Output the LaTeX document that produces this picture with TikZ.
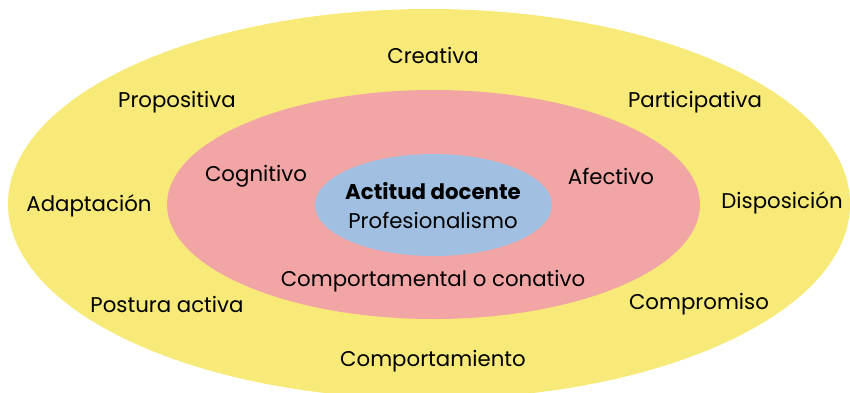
\documentclass[tikz,border=0pt]{standalone}
\usepackage{fontspec}
\setmainfont{Poppins}
\usetikzlibrary{shapes.geometric}
\definecolor{ringyellow}{RGB}{247,234,120}
\definecolor{ringred}{RGB}{242,165,165}
\definecolor{ringblue}{RGB}{160,191,225}
\tikzset{
  ring/.style={ellipse, inner sep=0pt},
  lbl/.style={font=\fontsize{21.3}{25}\selectfont, text=black, inner sep=0pt, yshift=-2.5pt}
}
\begin{document}
\begin{tikzpicture}[x=1pt,y=1pt]
\useasboundingbox (0,0) rectangle (850,-392);
\node[ring, fill=ringyellow, minimum width=842, minimum height=390] (outer) at (429,-204) {};
\node[ring, fill=ringred, minimum width=533, minimum height=229] (middle) at (433.5,-204.5) {};
\node[ring, fill=ringblue, minimum width=237, minimum height=102] (inner) at (433.5,-205) {};

\node[lbl] (creativa) at (433,-53) {Creativa};
\node[lbl] (propositiva) at (177,-100) {Propositiva};
\node[lbl] (participativa) at (695,-100) {Participativa};
\node[lbl] (adaptacion) at (89,-203) {Adaptación};
\node[lbl] (disposicion) at (782,-200) {Disposición};
\node[lbl] (postura) at (167,-302) {Postura activa};
\node[lbl] (compromiso) at (699,-302) {Compromiso};
\node[lbl] (comportamiento) at (433,-359) {Comportamiento};

\node[lbl] (cognitivo) at (256,-174) {Cognitivo};
\node[lbl] (afectivo) at (611,-174) {Afectivo};
\node[lbl] (conativo) at (433,-279) {Comportamental o conativo};

\node[lbl, font=\fontsize{21.3}{25}\selectfont\bfseries] (actitud) at (433,-189) {Actitud docente};
\node[lbl] (profesionalismo) at (433,-218) {Profesionalismo};
\end{tikzpicture}
\end{document}
